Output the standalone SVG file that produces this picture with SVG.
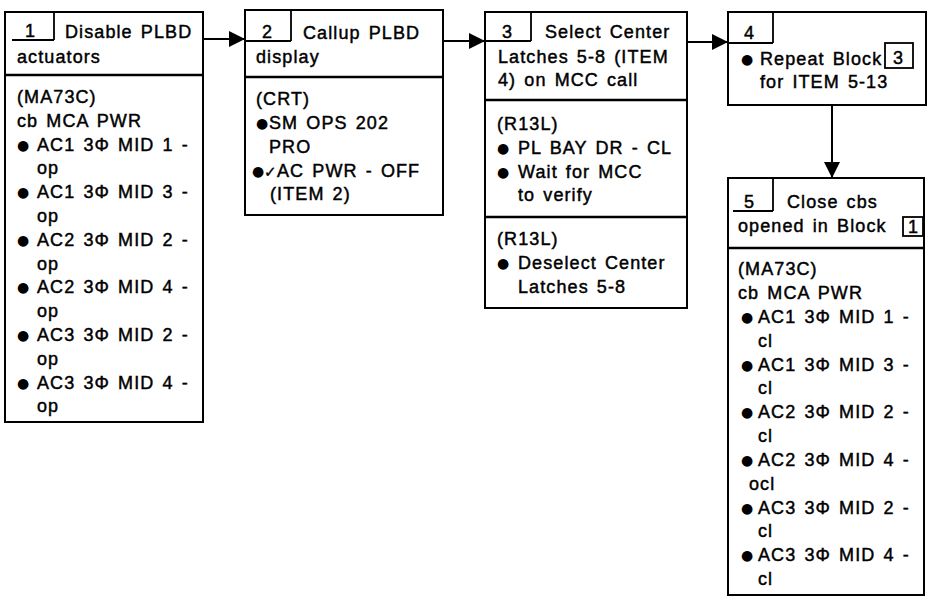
<svg xmlns="http://www.w3.org/2000/svg" width="930" height="597" viewBox="0 0 930 597">
<style>
.box{fill:#fff;stroke:#000;stroke-width:2}
.div{stroke:#000;stroke-width:2.6;fill:none}
.ln{stroke:#000;stroke-width:1.8;fill:none}
.t{font-family:"Liberation Sans","DejaVu Sans",sans-serif;font-size:18px;letter-spacing:1.1px;word-spacing:2px;fill:#000;stroke:#000;stroke-width:0.45}
.b{font-family:"DejaVu Sans","Liberation Sans",sans-serif;font-size:14px;letter-spacing:0;fill:#000}
.ck{font-family:"DejaVu Sans",sans-serif;font-size:15px;letter-spacing:0;fill:#000;stroke:#000;stroke-width:0.4}
.con{stroke:#000;stroke-width:2;fill:none;marker-end:url(#ah)}
</style>
<defs>
<marker id="ah" viewBox="0 0 16 16" refX="16" refY="8" markerWidth="16" markerHeight="16" markerUnits="userSpaceOnUse" orient="auto">
<path d="M0,0 L16,8 L0,16 z" fill="#000"/>
</marker>
</defs>
<rect width="930" height="597" fill="#fff"/>

<g id="connectors">
<path class="con" d="M203,39 L245,39"/>
<path class="con" d="M443,41 L485,41"/>
<path class="con" d="M687,42 L728,42"/>
<path class="con" d="M832,105 L832,178"/>
</g>

<g id="block1">
<rect class="box" x="5" y="12" width="198" height="410"/>
<path class="ln" d="M12,40 L54,40 M54,12 L54,40"/>
<line class="div" x1="5" y1="75" x2="203" y2="75"/>
<text class="t" x="25" y="37">1</text>
<text class="t" x="65" y="38">Disable PLBD</text>
<text class="t" x="17" y="63">actuators</text>
<text class="t" x="17" y="103">(MA73C)</text>
<text class="t" x="17" y="127">cb MCA PWR</text>
<text class="b" x="17" y="150">●</text><text class="t" x="37" y="151">AC1 3Φ MID 1 -</text>
<text class="t" x="37" y="174">op</text>
<text class="b" x="17" y="197">●</text><text class="t" x="37" y="198">AC1 3Φ MID 3 -</text>
<text class="t" x="37" y="222">op</text>
<text class="b" x="17" y="245">●</text><text class="t" x="37" y="246">AC2 3Φ MID 2 -</text>
<text class="t" x="37" y="270">op</text>
<text class="b" x="17" y="292">●</text><text class="t" x="37" y="293">AC2 3Φ MID 4 -</text>
<text class="t" x="37" y="317">op</text>
<text class="b" x="17" y="340">●</text><text class="t" x="37" y="341">AC3 3Φ MID 2 -</text>
<text class="t" x="37" y="365">op</text>
<text class="b" x="17" y="388">●</text><text class="t" x="37" y="389">AC3 3Φ MID 4 -</text>
<text class="t" x="37" y="412">op</text>
</g>

<g id="block2">
<rect class="box" x="245" y="10" width="198" height="205"/>
<path class="ln" d="M245,41 L291,41 M291,10 L291,41"/>
<line class="div" x1="245" y1="77" x2="443" y2="77"/>
<text class="t" x="262" y="38">2</text>
<text class="t" x="303" y="39">Callup PLBD</text>
<text class="t" x="256" y="63">display</text>
<text class="t" x="256" y="105">(CRT)</text>
<text class="b" x="256" y="128">●</text><text class="t" x="269" y="129">SM OPS 202</text>
<text class="t" x="269" y="153">PRO</text>
<text class="b" x="252" y="176">●</text><text class="ck" x="264" y="177">✓</text><text class="t" x="277" y="177">AC PWR - OFF</text>
<text class="t" x="270" y="200">(ITEM 2)</text>
</g>

<g id="block3">
<rect class="box" x="485" y="12" width="202" height="296"/>
<path class="ln" d="M485,41 L531,41 M531,12 L531,41"/>
<line class="div" x1="485" y1="100" x2="687" y2="100"/>
<line class="div" x1="485" y1="217" x2="687" y2="217"/>
<text class="t" x="502" y="38">3</text>
<text class="t" x="545" y="38">Select Center</text>
<text class="t" x="498" y="63">Latches 5-8 (ITEM</text>
<text class="t" x="498" y="86">4) on MCC call</text>
<text class="t" x="497" y="130">(R13L)</text>
<text class="b" x="497" y="153">●</text><text class="t" x="518" y="154">PL BAY DR - CL</text>
<text class="b" x="497" y="177">●</text><text class="t" x="518" y="178">Wait for MCC</text>
<text class="t" x="518" y="201">to verify</text>
<text class="t" x="497" y="245">(R13L)</text>
<text class="b" x="497" y="268">●</text><text class="t" x="518" y="269">Deselect Center</text>
<text class="t" x="518" y="293">Latches 5-8</text>
</g>

<g id="block4">
<rect class="box" x="728" y="12" width="198" height="93"/>
<path class="ln" d="M728,43 L773,43 M773,12 L773,43"/>
<text class="t" x="744" y="39">4</text>
<text class="b" x="741" y="64">●</text><text class="t" x="760" y="65">Repeat Block</text>
<rect x="885" y="43" width="28" height="25" fill="none" stroke="#000" stroke-width="1.8"/>
<text class="t" x="893" y="64">3</text>
<text class="t" x="760" y="88">for ITEM 5-13</text>
</g>

<g id="block5">
<rect class="box" x="728" y="178" width="196" height="417"/>
<path class="ln" d="M733,211 L773,211 M773,178 L773,211"/>
<line class="div" x1="728" y1="248" x2="924" y2="248"/>
<text class="t" x="744" y="208">5</text>
<text class="t" x="787" y="208">Close cbs</text>
<text class="t" x="738" y="232">opened in Block</text>
<rect x="903" y="217" width="20" height="19" fill="none" stroke="#000" stroke-width="1.8"/>
<text class="t" x="908" y="233">1</text>
<text class="t" x="738" y="275">(MA73C)</text>
<text class="t" x="738" y="299">cb MCA PWR</text>
<text class="b" x="741" y="322">●</text><text class="t" x="758" y="323">AC1 3Φ MID 1 -</text>
<text class="t" x="758" y="347">cl</text>
<text class="b" x="741" y="370">●</text><text class="t" x="758" y="371">AC1 3Φ MID 3 -</text>
<text class="t" x="758" y="394">cl</text>
<text class="b" x="741" y="417">●</text><text class="t" x="758" y="418">AC2 3Φ MID 2 -</text>
<text class="t" x="758" y="442">cl</text>
<text class="b" x="741" y="465">●</text><text class="t" x="758" y="466">AC2 3Φ MID 4 -</text>
<text class="t" x="749" y="490">ocl</text>
<text class="b" x="741" y="513">●</text><text class="t" x="758" y="514">AC3 3Φ MID 2 -</text>
<text class="t" x="758" y="537">cl</text>
<text class="b" x="741" y="560">●</text><text class="t" x="758" y="561">AC3 3Φ MID 4 -</text>
<text class="t" x="758" y="585">cl</text>
</g>
</svg>
